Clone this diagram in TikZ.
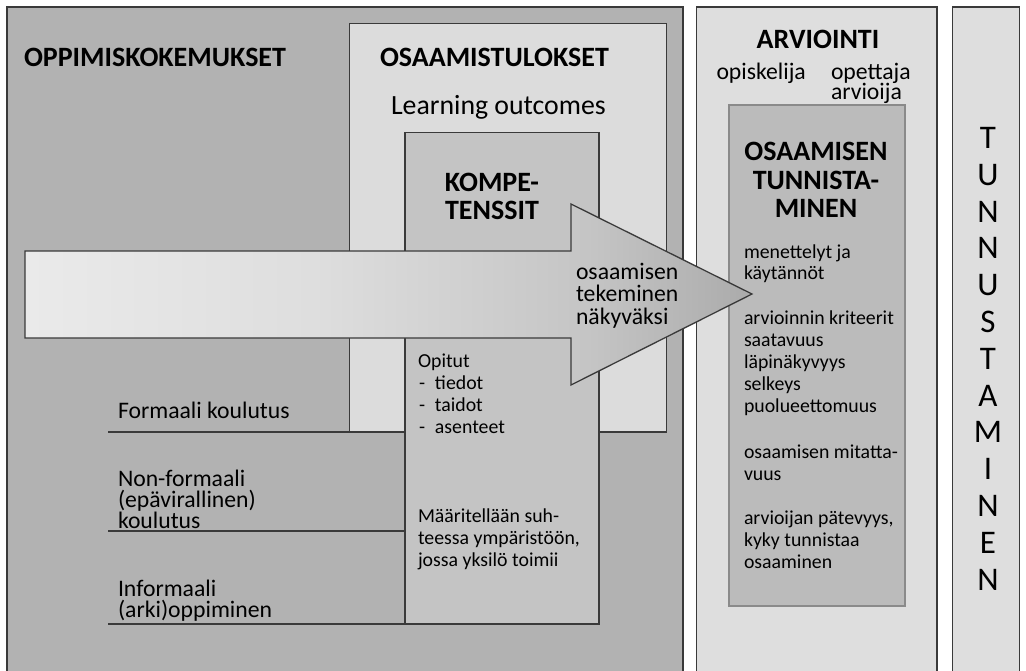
\documentclass[tikz,border=0pt]{standalone}
\usepackage{fontspec}
\setmainfont{Carlito}
\definecolor{outerfill}{HTML}{B2B2B2}
\definecolor{tulosfill}{HTML}{DCDCDC}
\definecolor{kompfill}{HTML}{C4C4C4}
\definecolor{rightfill}{HTML}{DEDEDE}
\definecolor{innerfill}{HTML}{BBBBBB}
\definecolor{edge}{HTML}{3A3A3A}
\definecolor{inneredge}{HTML}{8A8A8A}
\pgfdeclarehorizontalshading{arrowshade}{100bp}{color(0bp)=(black!6); color(20bp)=(black!7); color(45bp)=(black!13); color(64bp)=(black!23); color(75bp)=(black!33); color(100bp)=(black!50)}
\newcommand{\bodyf}{\fontsize{23.7pt}{22.3pt}\selectfont\lineskiplimit=-\maxdimen\relax}
\newcommand{\smallf}{\fontsize{19.8pt}{22.1pt}\selectfont\lineskiplimit=-\maxdimen\relax}
\newcommand{\headf}{\fontsize{28pt}{28.4pt}\selectfont\bfseries\lineskiplimit=-\maxdimen\relax}
\newcommand{\tunnf}{\fontsize{33pt}{36.8pt}\selectfont\lineskiplimit=-\maxdimen\relax}
\newcommand{\lofont}{\fontsize{27.8pt}{30pt}\selectfont}
\newcommand{\setbs}[1]{\baselineskip=#1\relax}
\newcommand{\Lines}[1]{\vtop{\halign{##\hfil\cr#1\crcr}}}
\newcommand{\CLines}[1]{\vtop{\halign{\hfil##\hfil\cr#1\crcr}}}
\newcommand{\dashitem}[1]{\hbox to 17pt{\hskip1pt-\hfil}#1}
\begin{document}
\begin{tikzpicture}[x=1pt,y=-1pt,
  panel/.style={draw=edge, line width=1.3pt, inner sep=0pt, outer sep=0pt, anchor=north west},
  rulel/.style={draw=edge, line width=1.3pt},
  txt/.style={inner sep=0pt, outer sep=0pt, anchor=base west, font=\bodyf},
  stxt/.style={inner sep=0pt, outer sep=0pt, anchor=base west, font=\smallf},
  htxt/.style={inner sep=0pt, outer sep=0pt, anchor=base west, font=\headf},
  ctxt/.style={inner sep=0pt, outer sep=0pt, anchor=base, font=\headf}]
\useasboundingbox (0,0) rectangle (1026,670);
\clip (0,0) rectangle (1026,670);
% panels
\node[panel, fill=outerfill, minimum width=676pt, minimum height=670pt] (outer) at (7,7) {};
\node[panel, fill=tulosfill, minimum width=317pt, minimum height=408.5pt] (tulos) at (349.5,23.5) {};
\node[panel, fill=kompfill, minimum width=194pt, minimum height=491.5pt] (komp) at (405,132.5) {};
\node[panel, fill=rightfill, minimum width=240.5pt, minimum height=670pt] (arv) at (696.5,7) {};
\node[panel, fill=innerfill, draw=inneredge, line width=1.2pt, minimum width=176pt, minimum height=501pt] (tunnist) at (729,105) {};
\node[panel, fill=rightfill, minimum width=67pt, minimum height=670pt] (tunnus) at (952.5,7) {};
% rules under learning contexts
\coordinate (f0) at (108,432);
\coordinate (n0) at (108,531);
\coordinate (i0) at (108,624);
\draw[rulel] (f0) -- (tulos.south west);
\draw[rulel] (n0) -- (n0 -| komp.west);
\draw[rulel] (i0) -- (komp.south west);
% arrow
\shadedraw[shading=arrowshade, draw=edge, line width=1.3pt]
  (25,251) -- (571,251) -- (571,204) -- (752,294) -- (571,385) -- (571,338) -- (25,338) -- cycle;
% texts left
\node[htxt] (t1) at (24,66.5) {OPPIMISKOKEMUKSET};
\node[txt, font=\lofont] (t3) at (391,114.5) {Learning outcomes};
\node[htxt] (t2) at (380,66.5) {OSAAMISTULOKSET};
\node[ctxt] (t4) at (492,191) {\CLines{KOMPE-\cr TENSSIT}};
\node[txt] (t5) at (576,279.5) {\setbs{22.3pt}\Lines{osaamisen\cr tekeminen\cr näkyväksi}};
\node[stxt] (t6) at (418,367) {\Lines{Opitut\cr \dashitem{tiedot}\cr \dashitem{taidot}\cr \dashitem{asenteet}}};
\node[stxt] (t7) at (418,522) {\Lines{Määritellään suh-\cr teessa ympäristöön,\cr jossa yksilö toimii}};
\node[txt] (t8) at (118,418) {Formaali koulutus};
\node[txt] (t9) at (118,486) {\setbs{21.3pt}\Lines{Non-formaali\cr (epävirallinen)\cr koulutus}};
\node[txt] (t10) at (118,596) {\setbs{21.3pt}\Lines{Informaali\cr (arki)oppiminen}};
% texts right
\node[ctxt] (r1) at (818,48.5) {ARVIOINTI};
\node[txt] (r2) at (716.5,79.5) {opiskelija};
\node[txt] (r3) at (831,79.3) {\setbs{19.7pt}\Lines{opettaja\cr arvioija}};
\node[ctxt] (r4) at (816,160.7) {\CLines{OSAAMISEN\cr TUNNISTA-\cr MINEN}};
\node[stxt] (r5) at (744,258.3) {\setbs{21pt}\Lines{menettelyt ja\cr käytännöt}};
\node[stxt] (r6) at (744,324.5) {\Lines{arvioinnin kriteerit\cr saatavuus\cr läpinäkyvyys\cr selkeys\cr puolueettomuus}};
\node[stxt] (r7) at (744,458.3) {\Lines{osaamisen mitatta-\cr vuus}};
\node[stxt] (r8) at (744,524.3) {\Lines{arvioijan pätevyys,\cr kyky tunnistaa\cr osaaminen}};
\node[inner sep=0pt, outer sep=0pt, anchor=base, font=\tunnf] (r9) at (988,148.5)
  {\CLines{T\cr U\cr N\cr N\cr U\cr S\cr T\cr A\cr M\cr I\cr N\cr E\cr N}};
\end{tikzpicture}
\end{document}
